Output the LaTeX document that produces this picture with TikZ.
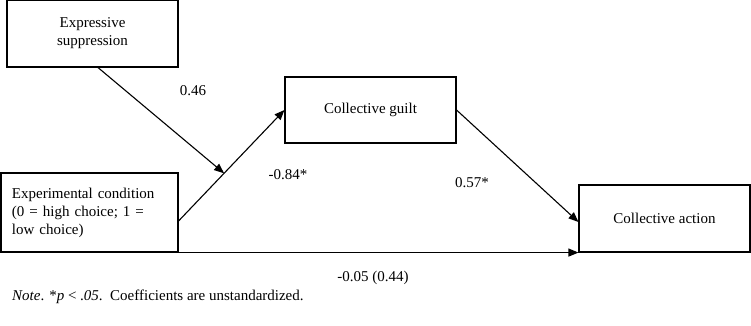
\documentclass[tikz,border=0pt]{standalone}
\usepackage{fontspec}
\setmainfont{Liberation Serif}
\usetikzlibrary{arrows.meta,calc}
\begin{document}
\begin{tikzpicture}[x=1pt,y=-1pt,
  varbox/.style={draw,line width=1.1pt,inner sep=0pt,font=\fontsize{15}{18}\selectfont,align=center},
  coef/.style={font=\fontsize{15}{18}\selectfont,inner sep=0pt},
  path/.style={line width=1.1pt,-{Triangle[length=10pt,width=8pt]}}]
\useasboundingbox (0,0) rectangle (751,325);
\node[varbox,minimum width=171pt,minimum height=67pt] (expr) at (92.5,33.5) {Expressive\\suppression};
\node[varbox,minimum width=171pt,minimum height=66pt] (guilt) at (370.5,110) {Collective guilt};
\node[varbox,minimum width=177pt,minimum height=79pt,align=left,text width=155pt] (cond) at (89.5,212.5) {Experimental condition\\(0 = high choice; 1 =\\low choice)};
\node[varbox,minimum width=171pt,minimum height=67pt] (action) at (664.5,218.5) {Collective action};
\coordinate (condout) at ([yshift=-8.5pt]cond.east);
\draw[path] (condout) -- (guilt.west) coordinate[pos=0.43] (mid);
\draw[path] ([xshift=5.5pt]expr.south) -- (mid);
\draw[path] (guilt.east) -- ([yshift=-3.5pt]action.west);
\draw[path] (cond.south east) -- (action.south west);
\node[coef] (l1) at (193,91) {0.46};
\node[coef] (l2) at (288,175) {-0.84*};
\node[coef] (l3) at (472,183) {0.57*};
\node[coef] (l4) at (373,278) {-0.05 (0.44)};
\node[coef,anchor=west] (note) at (12,297) {\textit{Note}. *\textit{p} < .\textit{05}.\ \ Coefficients are unstandardized.};
\end{tikzpicture}
\end{document}
